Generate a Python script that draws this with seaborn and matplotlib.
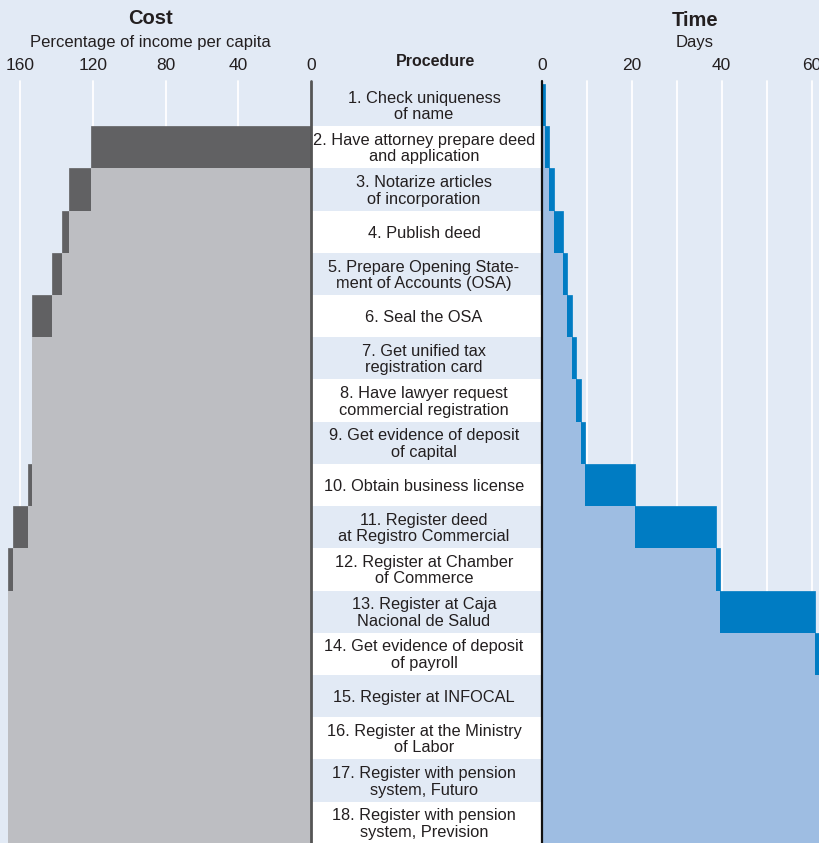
import numpy as np
import pandas as pd
import seaborn as sns
import matplotlib.pyplot as plt

# procedures, cost (% of income per capita) and time (days) per step
procedures = [
    "1. Check uniqueness\nof name",
    "2. Have attorney prepare deed\nand application",
    "3. Notarize articles\nof incorporation",
    "4. Publish deed",
    "5. Prepare Opening State-\nment of Accounts (OSA)",
    "6. Seal the OSA",
    "7. Get unified tax\nregistration card",
    "8. Have lawyer request\ncommercial registration",
    "9. Get evidence of deposit\nof capital",
    "10. Obtain business license",
    "11. Register deed\nat Registro Commercial",
    "12. Register at Chamber\nof Commerce",
    "13. Register at Caja\nNacional de Salud",
    "14. Get evidence of deposit\nof payroll",
    "15. Register at INFOCAL",
    "16. Register at the Ministry\nof Labor",
    "17. Register with pension\nsystem, Futuro",
    "18. Register with pension\nsystem, Prevision",
]
cost = [0, 120.7, 12.3, 3.9, 5.3, 11.2, 0, 0, 0, 2.0, 8.4, 2.6, 0, 0, 0, 0, 0, 0]
days = [0.75, 0.9, 1, 2, 1, 1, 1, 1, 1, 11, 18, 1, 21, 1, 1, 1, 1, 1]

cost_ticks = [160, 120, 80, 40, 0]
time_ticks = [0, 20, 40, 60]
time_grid = [10, 20, 30, 40, 50, 60]

bg = "#e2eaf5"
cost_dark, cost_light = "#616163", "#bdbec2"
time_dark, time_light = "#007cc3", "#9ebde2"

df = pd.DataFrame({"procedure": procedures, "cost": cost, "days": days})
df["cost_after"] = df["cost"].cumsum()
df["cost_before"] = df["cost_after"] - df["cost"]
df["days_after"] = df["days"].cumsum()
df["days_before"] = df["days_after"] - df["days"]

sns.set_style("white")
plt.rcParams["font.family"] = ["Liberation Sans Narrow", "Liberation Sans", "DejaVu Sans"]

fig = plt.figure(figsize=(8.2, 8.43), dpi=100)
fig.patch.set_facecolor(bg)

W, H = 820, 843
top = 1 - 84 / H
ax_p = fig.add_axes([311 / W, 0, (541.7 - 311) / W, top], zorder=0)
ax_c = fig.add_axes([0, 0, 311 / W, top], zorder=1)
ax_t = fig.add_axes([541.7 / W, 0, (820 - 541.7) / W, top], zorder=1)

n = len(procedures)
ylim = (n - 0.5 - 0.02, -0.5)


def step_panel(ax, after, before, dark, light, grid, xlim):
    ax.set_facecolor(bg)
    for g in grid:
        ax.axvline(g, color="white", lw=1.3, zorder=0, clip_on=False, ymax=1.004)
    sns.barplot(data=df, x=after, y="procedure", orient="h", color=dark,
                width=1, saturation=1, edgecolor=dark, linewidth=0.5, ax=ax, zorder=2)
    sns.barplot(data=df, x=before, y="procedure", orient="h", color=light,
                width=1, saturation=1, linewidth=0, ax=ax, zorder=3)
    ax.set_xlim(*xlim)
    ax.set_ylim(*ylim)
    ax.set_xlabel("")
    ax.set_ylabel("")
    ax.set_yticks([])
    ax.xaxis.tick_top()
    ax.tick_params(axis="x", length=0, pad=8, labelsize=12.5, colors="#231f20")
    for s in ax.spines.values():
        s.set_visible(False)


step_panel(ax_c, "cost_after", "cost_before", cost_dark, cost_light,
           cost_ticks[:-1], (171.0, 0))
ax_c.set_xticks(cost_ticks)
ax_c.set_xticklabels([str(t) for t in cost_ticks])
ax_c.axvline(0, color="#555555", lw=2, zorder=5, clip_on=False, ymax=1.004)

step_panel(ax_t, "days_after", "days_before", time_dark, time_light,
           time_grid, (0, 61.85))
ax_t.set_xticks(time_ticks)
ax_t.set_xticklabels([str(t) for t in time_ticks])
ax_t.axvline(0, color="#111111", lw=1.6, zorder=5, clip_on=False, ymax=1.004)

# procedure column with alternating rows
ax_p.set_xlim(0, 1)
ax_p.set_ylim(*ylim)
ax_p.set_facecolor("white")
for i, name in enumerate(procedures):
    if i % 2 == 0:
        ax_p.axhspan(i - 0.5, i + 0.5, color=bg, lw=0, zorder=0)
    ax_p.text(0.49, i + 0.03, name, ha="center", va="center", fontsize=11.8,
              linespacing=1.12, color="#231f20")
ax_p.set_xticks([])
ax_p.set_yticks([])
for s in ax_p.spines.values():
    s.set_visible(False)

fig.text(150 / W, 1 - 18 / H, "Cost", ha="center", va="center",
         fontsize=14.5, fontweight="bold", color="#231f20")
fig.text(150 / W, 1 - 42 / H, "Percentage of income per capita", ha="center",
         va="center", fontsize=12, color="#231f20")
fig.text(695 / W, 1 - 20 / H, "Time", ha="center", va="center",
         fontsize=14.5, fontweight="bold", color="#231f20")
fig.text(695 / W, 1 - 43 / H, "Days", ha="center", va="center",
         fontsize=12, color="#231f20")
fig.text(436 / W, 1 - 61 / H, "Procedure", ha="center", va="center",
         fontsize=11.5, fontweight="bold", color="#231f20")

fig.savefig("out.png", dpi=100, facecolor=bg)
